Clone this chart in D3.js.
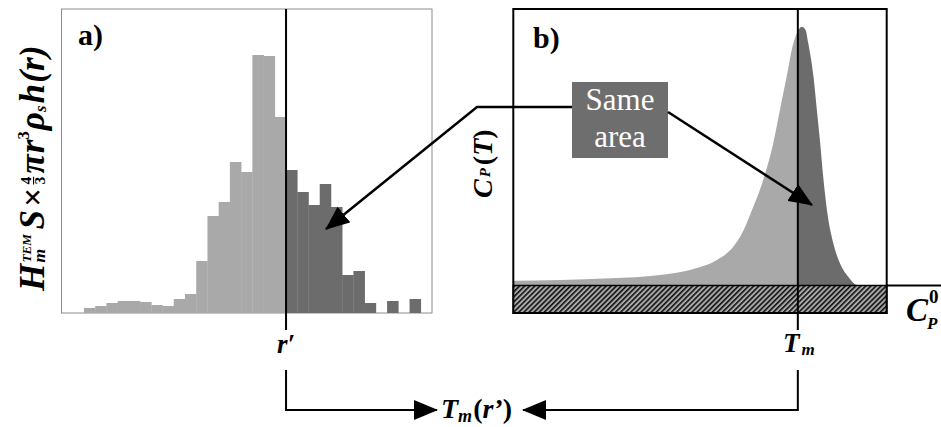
<!DOCTYPE html>
<html>
<head>
<meta charset="utf-8">
<script src="https://cdn.jsdelivr.net/npm/d3@7/dist/d3.min.js"></script>
<style>
body { margin: 0; background: #fff; }
svg { display: block; }
</style>
</head>
<body>
<div id="chart"></div>
<script>
// panel a : TEM size histogram (30 bins, r' = start of bin 18)
var binValues = [5, 7, 10, 12, 12, 11, 8, 7, 14, 19, 52, 97, 111, 151, 141, 258, 257, 196,
                 143, 121, 108, 129, 106, 38, 42, 10, 0, 12, 0, 14];
var rPrime = 18;
// panel b : excess heat capacity curve
var tempValues = [0, 12.5, 25.9, 39.3, 48.1, 54.5, 58.9, 61.5, 63.4, 67.0, 69.6, 71.4, 73.2, 75.0,
                  76.3, 77.3, 78.3, 79.0, 80.4, 81.3, 82.2, 83.0, 84.0, 85.7, 87.5, 89.7, 92.0, 93.0];
var cpValues = [1.7, 2.0, 2.6, 3.8, 5.9, 9.2, 14.0, 19.5, 25.5, 38.5, 51.4, 63.5, 75.5, 87.6,
                92.3, 93.6, 92.3, 87.6, 75.5, 63.5, 51.4, 39.3, 27.3, 15.3, 8.0, 3.2, 0.2, 0];
var tMelt = 76.2;

var light = "#a9a9a9", dark = "#6c6c6c";
var serif = "'Liberation Serif', 'DejaVu Serif', 'Times New Roman', serif";

var svg = d3.select("#chart").append("svg")
    .attr("width", 941)
    .attr("height", 427)
    .attr("font-family", serif);

var defs = svg.append("defs");
defs.append("marker")
    .attr("id", "arr")
    .attr("markerUnits", "userSpaceOnUse")
    .attr("viewBox", "0 0 24 20")
    .attr("refX", 23)
    .attr("refY", 10)
    .attr("markerWidth", 24)
    .attr("markerHeight", 20)
    .attr("orient", "auto")
    .append("path")
    .attr("d", "M0,0L24,10L0,20Z")
    .attr("fill", "#000");
var hatch = defs.append("pattern")
    .attr("id", "hatch")
    .attr("patternUnits", "userSpaceOnUse")
    .attr("width", 3.6)
    .attr("height", 3.6)
    .attr("patternTransform", "rotate(45)");
hatch.append("rect").attr("width", 3.6).attr("height", 3.6).attr("fill", "#a8a8a8");
hatch.append("line").attr("x1", 0.8).attr("y1", 0).attr("x2", 0.8).attr("y2", 3.6)
    .attr("stroke", "#111").attr("stroke-width", 1.6);

// ---------- panel a ----------
var xa = d3.scaleLinear().domain([-2, 31]).range([61.5, 432]);
var ya = d3.scaleLinear().domain([0, 304]).range([313, 9]);

svg.append("rect")
    .attr("x", xa(-2)).attr("y", ya(304))
    .attr("width", xa(31) - xa(-2)).attr("height", ya(0) - ya(304))
    .attr("fill", "none").attr("stroke", "#8c8c8c").attr("stroke-width", 1);

svg.selectAll(".bar").data(binValues).enter().append("rect")
    .attr("class", "bar")
    .attr("x", function (d, i) { return xa(i); })
    .attr("y", function (d) { return ya(d); })
    .attr("width", function (d, i) { return xa(i + 1) - xa(i) + 0.3; })
    .attr("height", function (d) { return ya(0) - ya(d); })
    .attr("fill", function (d, i) { return i < rPrime ? light : dark; });

svg.append("line")
    .attr("x1", xa(rPrime)).attr("y1", 9).attr("x2", xa(rPrime)).attr("y2", 330)
    .attr("stroke", "#000").attr("stroke-width", 2);

svg.append("text").attr("x", 78).attr("y", 45)
    .attr("font-size", 30).attr("font-weight", "bold").text("a)");

// math labels are built piece by piece
function writer(g) {
    var w = { cx: 0 };
    w.put = function (t, size, dy, italic, advance) {
        var el = g.append("text")
            .attr("x", w.cx).attr("y", dy || 0)
            .attr("font-size", size)
            .attr("font-weight", "bold")
            .attr("font-style", italic === false ? "normal" : "italic")
            .text(t);
        var len = el.node().getComputedTextLength();
        if (advance !== false) w.cx += len;
        return len;
    };
    return w;
}
var ga = svg.append("g");
var wa = writer(ga);
wa.put("H", 32);
var x0 = wa.cx + 1;
wa.cx = x0;
var l1 = wa.put("TEM", 12, -12, true, false);
var l2 = wa.put("m", 16, 1, true, false);
wa.cx = x0 + Math.max(l1, l2) + 4;
wa.put("S", 32);
wa.cx += 3;
wa.put("\u00d7", 30, 0, false);
wa.cx += 3;
var fx = wa.cx;
var f1 = wa.put("4", 14, -12, false, false);
ga.append("line").attr("x1", fx).attr("x2", fx + f1).attr("y1", -9.5).attr("y2", -9.5)
    .attr("stroke", "#000").attr("stroke-width", 1);
wa.put("3", 14, 1, false);
wa.cx += 3;
wa.put("\u03c0", 32);
wa.cx += 1;
wa.put("r", 32);
wa.put("3", 15, -14, false);
wa.cx += 1;
wa.put("\u03c1", 32);
wa.put("s", 15, 2);
wa.cx += 2;
wa.put("h", 32);
wa.cx += 1;
wa.put("(r)", 32);
var ka = Math.max(0.9, Math.min(1.1, 258 / wa.cx));
ga.attr("transform", "translate(44,291) rotate(-90) scale(" + ka + ")");

// ---------- panel b ----------
var xb = d3.scaleLinear().domain([0, 100]).range([513.3, 886.7]);
var yb = d3.scaleLinear().domain([0, 100]).range([285.5, 9]);
var curve = tempValues.map(function (t, i) { return [t, cpValues[i]]; });

defs.append("clipPath").attr("id", "clipLeft").append("rect")
    .attr("x", xb(0)).attr("y", 0).attr("width", xb(tMelt) - xb(0)).attr("height", 320);
defs.append("clipPath").attr("id", "clipRight").append("rect")
    .attr("x", xb(tMelt)).attr("y", 0).attr("width", xb(100) - xb(tMelt)).attr("height", 320);

var area = d3.area()
    .x(function (d) { return xb(d[0]); })
    .y0(yb(0))
    .y1(function (d) { return yb(d[1]); })
    .curve(d3.curveMonotoneX);

svg.append("path").datum(curve).attr("d", area)
    .attr("fill", light).attr("clip-path", "url(#clipLeft)");
svg.append("path").datum(curve).attr("d", area)
    .attr("fill", dark).attr("clip-path", "url(#clipRight)");

// baseline C_P^0 hatched band
svg.append("rect")
    .attr("x", xb(0)).attr("y", yb(0))
    .attr("width", xb(100) - xb(0)).attr("height", 313 - yb(0))
    .attr("fill", "url(#hatch)").attr("stroke", "#000").attr("stroke-width", 1.5);
svg.append("line")
    .attr("x1", xb(100)).attr("y1", yb(0)).attr("x2", 941).attr("y2", yb(0))
    .attr("stroke", "#000").attr("stroke-width", 2);

svg.append("rect")
    .attr("x", xb(0)).attr("y", 9)
    .attr("width", xb(100) - xb(0)).attr("height", 304)
    .attr("fill", "none").attr("stroke", "#000").attr("stroke-width", 2);

svg.append("line")
    .attr("x1", xb(tMelt)).attr("y1", 9).attr("x2", xb(tMelt)).attr("y2", 330)
    .attr("stroke", "#000").attr("stroke-width", 2);

svg.append("text").attr("x", 533).attr("y", 48)
    .attr("font-size", 30).attr("font-weight", "bold").text("b)");

// C_P(T) label
var gb = svg.append("g").attr("transform", "translate(492,198) rotate(-90)");
var wb = writer(gb);
wb.put("C", 28);
wb.cx += 2;
wb.put("P", 15, -2);
wb.cx += 3;
wb.put("(", 28, 0, false);
wb.put("T", 28);
wb.put(")", 28, 0, false);

// C_P^0 label at the right edge
svg.append("text").attr("x", 906).attr("y", 321)
    .attr("font-size", 33).attr("font-weight", "bold").attr("font-style", "italic").text("C");
svg.append("text").attr("x", 929).attr("y", 303)
    .attr("font-size", 19).attr("font-weight", "bold").text("0");
svg.append("text").attr("x", 927).attr("y", 329)
    .attr("font-size", 17).attr("font-weight", "bold").attr("font-style", "italic").text("P");

// "Same area" box and its two arrows
svg.append("rect")
    .attr("x", 572).attr("y", 82).attr("width", 96).attr("height", 76)
    .attr("fill", "#6e6e6e");
svg.append("text").attr("x", 620).attr("y", 110).attr("text-anchor", "middle")
    .attr("font-size", 31).attr("fill", "#fff").text("Same");
svg.append("text").attr("x", 620).attr("y", 147).attr("text-anchor", "middle")
    .attr("font-size", 31).attr("fill", "#fff").text("area");

svg.append("path")
    .attr("d", "M572,107H477L326,229")
    .attr("fill", "none").attr("stroke", "#000").attr("stroke-width", 2.5)
    .attr("marker-end", "url(#arr)");
svg.append("path")
    .attr("d", "M668,112L812,205")
    .attr("fill", "none").attr("stroke", "#000").attr("stroke-width", 2.5)
    .attr("marker-end", "url(#arr)");

// ---------- bottom: r' and T_m link ----------
svg.append("text").attr("x", xa(rPrime)).attr("y", 353).attr("text-anchor", "middle")
    .attr("font-size", 27).attr("font-weight", "bold").attr("font-style", "italic").text("r\u2032");

var gt = svg.append("g").attr("transform", "translate(783,352)");
var wt = writer(gt);
wt.put("T", 27);
wt.cx += 2;
wt.put("m", 17, 3);

svg.append("path")
    .attr("d", "M" + xa(rPrime) + ",370V410H437")
    .attr("fill", "none").attr("stroke", "#000").attr("stroke-width", 2)
    .attr("marker-end", "url(#arr)");
svg.append("path")
    .attr("d", "M" + xb(tMelt) + ",370V410H523")
    .attr("fill", "none").attr("stroke", "#000").attr("stroke-width", 2)
    .attr("marker-end", "url(#arr)");

var gm = svg.append("g").attr("transform", "translate(441,418)");
var wm = writer(gm);
wm.put("T", 28);
wm.put("m", 18, 4);
wm.cx += 1;
wm.put("(", 28, 0, false);
wm.put("r", 28);
wm.put("\u2019", 28);
wm.put(")", 28, 0, false);
</script>
</body>
</html>
